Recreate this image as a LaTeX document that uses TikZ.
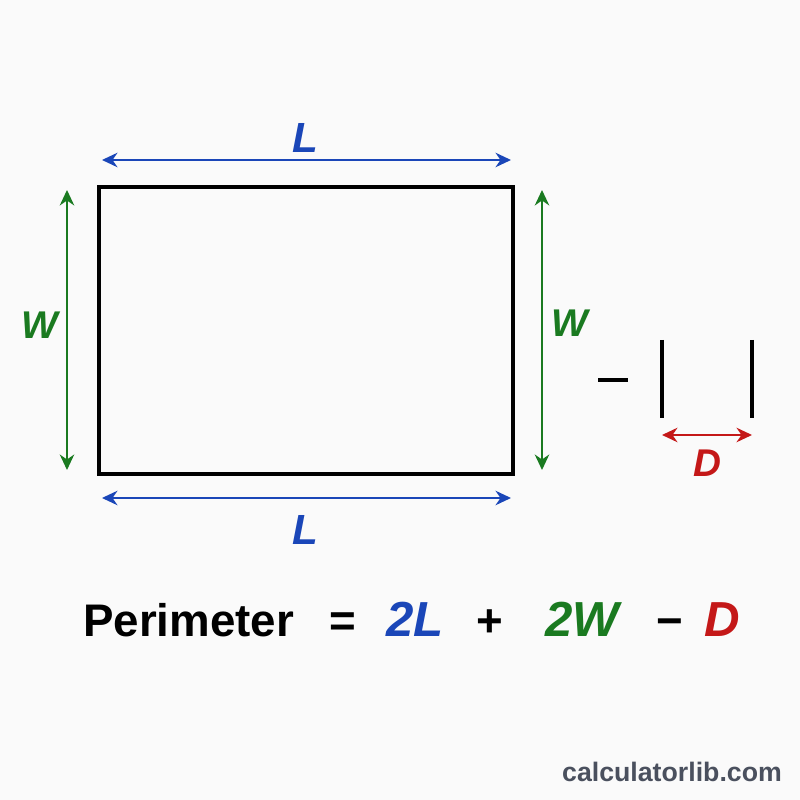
\documentclass[tikz,border=0pt]{standalone}
\usepackage{fontspec}
\setmainfont{Liberation Sans}
\usetikzlibrary{arrows.meta}
\definecolor{lblue}{RGB}{26,70,184}
\definecolor{lgreen}{RGB}{26,122,32}
\definecolor{lred}{RGB}{196,24,24}
\definecolor{wmark}{RGB}{74,80,94}
\definecolor{paper}{RGB}{250,250,250}

\begin{document}
\begin{tikzpicture}[
		dim/.style={line width=1.1pt,{Stealth[length=3.1mm,width=2.9mm]}-{Stealth[length=3.1mm,width=2.9mm]}},
		lab/.style={font=\fontsize{22}{24}\selectfont\bfseries\itshape},
		eq/.style={font=\fontsize{26}{28}\selectfont\bfseries,anchor=base},
		eqi/.style={eq,font=\fontsize{28}{30}\selectfont\bfseries\itshape}]
			\fill[paper] (0,0) rectangle (16,16);
			\useasboundingbox (0,0) rectangle (16,16);
			%\draw[help lines] (0,0) grid (16,16);
			
			% the rectangle
			\coordinate (sw) at (1.98,6.52);
			\coordinate (ne) at (10.26,12.26);
			\draw[line width=2.4pt] (sw) rectangle (ne);
			
			% lengths
			\coordinate (tl) at (2.04,12.8);  \coordinate (tr) at (10.22,12.8);
			\coordinate (bl) at (2.04,6.04);  \coordinate (br) at (10.22,6.04);
			\draw[dim,lblue] (tl) -- (tr);
			\draw[dim,lblue] (bl) -- (br);
			\node[lab,lblue,font=\fontsize{24}{26}\selectfont\bfseries\itshape] (Ltop) at (6.1,13.24) {L};
			\node[lab,lblue,font=\fontsize{24}{26}\selectfont\bfseries\itshape] (Lbot) at (6.1,5.4) {L};
			
			% widths
			\coordinate (lt) at (1.34,12.2);  \coordinate (lb) at (1.34,6.6);
			\coordinate (rt) at (10.84,12.2); \coordinate (rb) at (10.84,6.6);
			\draw[dim,lgreen] (lt) -- (lb);
			\draw[dim,lgreen] (rt) -- (rb);
			\node[lab,lgreen] (Wleft) at (0.8,9.5) {W};
			\node[lab,lgreen] (Wright) at (11.4,9.54) {W};
			
			% the door
			\draw[line width=2pt] (11.96,8.4) -- (12.56,8.4);
			\coordinate (ja) at (13.24,9.2); \coordinate (jb) at (13.24,7.64);
			\coordinate (jc) at (15.04,9.2); \coordinate (jd) at (15.04,7.64);
			\draw[line width=2.2pt] (ja) -- (jb);
			\draw[line width=2.2pt] (jc) -- (jd);
			\coordinate (dl) at (13.24,7.3); \coordinate (dr) at (15.04,7.3);
			\draw[dim,lred] (dl) -- (dr);
			\node[lab,lred] (Dlab) at (14.14,6.74) {D};
			
			% formula
			\node[eq,anchor=base west] (per) at (1.54,3.26) {Perimeter};
			\node[eq] (equ) at (6.86,3.26) {=};
			\node[eqi,lblue] (twoL) at (8.3,3.26) {2L};
			\node[eq] (plus) at (9.8,3.26) {+};
			\node[eqi,lgreen] (twoW) at (11.64,3.26) {2W};
			\node[eq] (minus) at (13.4,3.26) {−};
			\node[eqi,lred] (D) at (14.44,3.26) {D};
			
			\node[wmark,font=\fontsize{15.2}{17}\selectfont\bfseries] (site) at (13.44,0.56) {calculatorlib.com};
		\end{tikzpicture}
\end{document}
